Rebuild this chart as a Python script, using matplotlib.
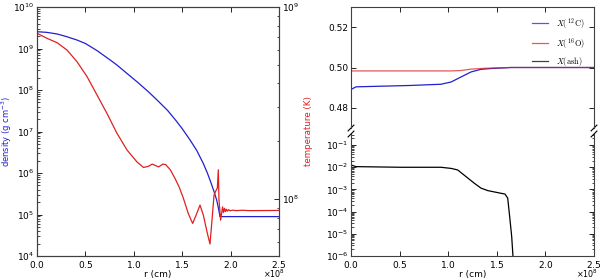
import matplotlib
matplotlib.use("Agg")
import matplotlib.pyplot as plt
from matplotlib.ticker import ScalarFormatter, LogLocator, NullFormatter
import numpy as np

plt.rcParams['mathtext.fontset'] = 'dejavusans'

# ---------------- data ----------------
# left panel: r in units of 1e8 cm
r_dens = [0.0, 0.1, 0.207, 0.3, 0.413, 0.5, 0.62, 0.75, 0.826, 0.93, 1.033, 1.15, 1.24,
          1.35, 1.44, 1.5, 1.58, 1.65, 1.718, 1.76, 1.80, 1.83, 1.856, 1.875, 1.89, 2.5]
density = [2.54e9, 2.45e9, 2.24e9, 1.95e9, 1.60e9, 1.32e9, 8.9e8, 5.4e8, 4.0e8, 2.5e8,
           1.58e8, 9.1e7, 5.75e7, 3.2e7, 1.78e7, 1.17e7, 6.3e6, 3.5e6, 1.7e6, 1.0e6,
           5.6e5, 3.5e5, 2.24e5, 1.4e5, 8.9e4, 8.9e4]

r_temp = [0.0, 0.103, 0.207, 0.31, 0.413, 0.517, 0.62, 0.723, 0.826, 0.93, 1.033, 1.10,
          1.15, 1.19, 1.257, 1.30, 1.33, 1.377, 1.426, 1.47, 1.512, 1.563, 1.608, 1.65,
          1.684, 1.718, 1.76, 1.787, 1.808, 1.829, 1.85, 1.863, 1.873, 1.88, 1.897,
          1.907, 1.917, 1.927, 1.937, 1.947, 1.957, 1.967, 1.98, 1.995, 2.02, 2.06,
          2.12, 2.2, 2.5]
temperature = [7.3e8, 6.87e8, 6.52e8, 5.97e8, 5.19e8, 4.34e8, 3.48e8, 2.79e8, 2.20e8,
               1.80e8, 1.56e8, 1.46e8, 1.48e8, 1.52e8, 1.47e8, 1.52e8, 1.51e8, 1.42e8,
               1.28e8, 1.15e8, 1.01e8, 8.4e7, 7.46e7, 8.4e7, 9.3e7, 8.26e7, 6.62e7,
               5.83e7, 7.78e7, 1.05e8, 1.11e8, 1.14e8, 1.42e8, 9.9e7, 7.76e7,
               8.4e7, 9.1e7, 8.5e7, 8.95e7, 8.6e7, 8.85e7, 8.65e7, 8.8e7, 8.68e7,
               8.75e7, 8.7e7, 8.74e7, 8.7e7, 8.72e7]

# right panel
r_c12 = [0.0, 0.051, 0.206, 0.617, 0.926, 1.029, 1.132, 1.235, 1.337, 1.44, 1.646, 2.5]
x_c12 = [0.4891, 0.4904, 0.4906, 0.4911, 0.4917, 0.4928, 0.4953, 0.4978, 0.4991,
         0.4995, 0.5000, 0.5000]
r_o16 = [0.0, 1.029, 1.132, 1.235, 1.372, 1.646, 2.5]
x_o16 = [0.4983, 0.4983, 0.4985, 0.4992, 0.4996, 0.5000, 0.5000]
r_ash = [0.0, 0.051, 0.514, 0.926, 1.029, 1.097, 1.183, 1.269, 1.337, 1.406, 1.509,
         1.584, 1.612, 1.632, 1.653, 1.674, 1.70]
x_ash = [1.26e-2, 1.07e-2, 1.0e-2, 1.0e-2, 8.9e-3, 7.6e-3, 3.8e-3, 1.9e-3, 1.15e-3,
         8.9e-4, 7.2e-4, 6.2e-4, 4.1e-4, 6.2e-5, 7.8e-6, 3e-7, 1e-8]

xticks = [0.0, 0.5, 1.0, 1.5, 2.0, 2.5]
SCALE = 1e8

# ---------------- figure ----------------
fs = 6.5
fig = plt.figure(figsize=(6.0, 2.79), dpi=100)
spine_col = '0.25'
BLUE = '#2020d0'
RED = '#e02020'

def style(ax):
    ax.tick_params(which='both', direction='in', top=True, right=True,
                   labelsize=fs, colors='black', pad=2)
    ax.tick_params(which='major', length=3.5, width=0.6)
    ax.tick_params(which='minor', length=1.8, width=0.5)
    for s in ax.spines.values():
        s.set_color(spine_col)
        s.set_linewidth(0.8)

def xfmt(ax):
    f = ScalarFormatter(useMathText=True)
    f.set_powerlimits((0, 0))
    ax.xaxis.set_major_formatter(f)
    ax.xaxis.get_offset_text().set_visible(False)

r_d = np.array(r_dens) * SCALE
r_t = np.array(r_temp) * SCALE

# left panel
ax1 = fig.add_axes([37/600, 23/279, 242/600, 249/279])
ax1.plot(r_d, density, color=BLUE, lw=0.9)
ax1.set_yscale('log')
ax1.set_ylim(1e4, 1e10)
ax1.set_xlim(0, 2.5e8)
ax1.set_xticks(np.array(xticks) * SCALE)
xfmt(ax1)
style(ax1)
ax1.tick_params(right=False, which='both')
ax1.set_ylabel('density (g cm$^{-3}$)', color=BLUE, fontsize=6.0)
ax1.yaxis.set_label_coords(-0.097, 0.5)
ax1.set_xlabel('r (cm)', fontsize=fs, labelpad=0.5)

ax1t = ax1.twinx()
ax1t.plot(r_t, temperature, color=RED, lw=0.9)
ax1t.set_yscale('log')
ax1t.set_ylim(5.05e7, 1e9)
style(ax1t)
ax1t.tick_params(left=False, which='both')
ax1t.set_ylabel('temperature (K)', color=RED, fontsize=6.3, labelpad=4)

# right panel top
ax2 = fig.add_axes([351/600, 151/279, 243/600, 121/279])
ax2.plot(np.array(r_c12) * SCALE, x_c12, color=BLUE, lw=0.9, label=r'$X(\,^{12}\mathrm{C})$')
ax2.plot(np.array(r_o16) * SCALE, x_o16, color=RED, lw=0.9, alpha=0.75, label=r'$X(\,^{16}\mathrm{O})$')
ax2.plot([], [], color='black', lw=0.9, label=r'$X(\mathrm{ash})$')
ax2.set_xlim(0, 2.5e8)
ax2.set_ylim(0.47, 0.53)
ax2.set_yticks([0.48, 0.50, 0.52])
ax2.set_xticks(np.array(xticks) * SCALE)
style(ax2)
ax2.tick_params(labelbottom=False, bottom=False)
ax2.spines['bottom'].set_visible(False)
leg = ax2.legend(loc='upper right', frameon=False, fontsize=6, handlelength=1.9,
                 labelspacing=0.55, borderaxespad=0.7, handletextpad=1.0)
for t in leg.get_texts():
    t.set_math_fontfamily('cm')
for h in leg.get_lines():
    h.set_alpha(0.75)

# right panel bottom
ax3 = fig.add_axes([351/600, 23/279, 243/600, 122/279])
ax3.plot(np.array(r_ash) * SCALE, x_ash, color='black', lw=0.9)
ax3.set_yscale('log')
ax3.set_ylim(1e-6, 10**-0.5)
ax3.set_xlim(0, 2.5e8)
ax3.set_xticks(np.array(xticks) * SCALE)
ax3.yaxis.set_major_locator(LogLocator(base=10, numticks=10))
ax3.yaxis.set_minor_locator(LogLocator(base=10, subs=np.arange(2, 10), numticks=20))
ax3.yaxis.set_minor_formatter(NullFormatter())
xfmt(ax3)
style(ax3)
ax3.tick_params(top=False, which='both')
ax3.spines['top'].set_visible(False)
ax3.set_xlabel('r (cm)', fontsize=fs, labelpad=0.5)

# offset texts (x10^8)
fig.text(285/600, 1/279, r'$\times10^{8}$', fontsize=5.8, ha='right', va='baseline')
fig.text(598/600, 1/279, r'$\times10^{8}$', fontsize=5.8, ha='right', va='baseline')

# break marks
d = 0.012
kw = dict(color='black', clip_on=False, lw=0.8)
ax2.plot((-d, +d), (-d * 2, +d * 2), transform=ax2.transAxes, **kw)
ax2.plot((1 - d, 1 + d), (-d * 2, +d * 2), transform=ax2.transAxes, **kw)
ax3.plot((-d, +d), (1 - d * 2, 1 + d * 2), transform=ax3.transAxes, **kw)
ax3.plot((1 - d, 1 + d), (1 - d * 2, 1 + d * 2), transform=ax3.transAxes, **kw)

fig.savefig('out.png', dpi=100)
